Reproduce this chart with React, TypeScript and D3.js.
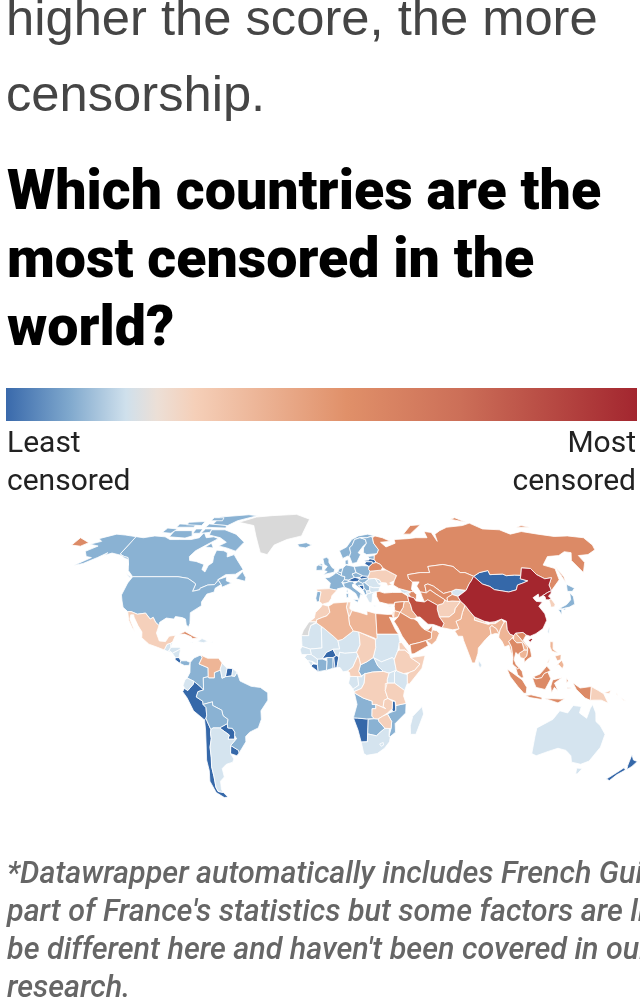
import React from "react";
import * as d3 from "d3";

const bodyLines = ["higher the score, the more", "censorship."];
const titleLines = ["Which countries are the", "most censored in the", "world?"];
const legendLeft = ["Least", "censored"];
const legendRight = ["Most", "censored"];
const noteLines = [
  "*Datawrapper automatically includes French Guiana as",
  "part of France's statistics but some factors are likely to",
  "be different here and haven't been covered in our",
  "research.",
];

const legendStops: [number, string][] = [
  [0, "#3969ab"], [0.1, "#7fa8cd"], [0.19, "#cfe0ec"], [0.24, "#ecdfd6"], [0.3, "#f5cfb8"],
  [0.54, "#e09069"], [0.72, "#cc6f58"], [1, "#a3262f"],
];

const levelColors: Record<string, string> = {
  deep: "#3567a9", mid: "#8ab2d3", pale: "#d5e4ef", peach: "#f5d0bb", light: "#eeb596",
  orange: "#dc8a66", strong: "#bf4f40", top: "#a4282f", none: "#d9d9d9",
};

const deep = ["Peru", "Chile", "Paraguay", "Uruguay", "Suriname", "Costa Rica", "Latvia", "Lithuania", "Slovakia", "Austria", "Bosnia", "Liberia", "Burkina Faso", "Togo", "Benin", "Namibia", "Malawi", "Mongolia", "New Zealand"];
const mid = ["Canada", "United States", "Iceland", "Norway", "Sweden", "Finland", "Denmark", "United Kingdom", "Ireland", "France", "Portugal", "Belgium", "Netherlands", "Germany", "Poland", "Czechia", "Switzerland", "Italy", "Hungary", "Croatia", "Estonia", "Colombia", "Brazil", "Bolivia", "Panama", "Ghana", "Ivory Coast", "Central African Rep.", "Angola", "Mozambique", "Botswana", "Japan", "Serbia", "Albania"];
const pale = ["Guatemala", "Honduras", "Nicaragua", "El Salvador", "Belize", "Ecuador", "Guyana", "French Guiana", "Argentina", "Caribbean", "Romania", "Bulgaria", "Greece", "Moldova", "Macedonia", "Cyprus", "Georgia", "Armenia", "Kyrgyzstan", "Taiwan", "Sri Lanka", "Mauritania", "Mali", "Senegal", "Guinea", "Sierra Leone", "Niger", "Nigeria", "Sudan", "South Sudan", "Kenya", "Gabon", "Congo", "Uganda", "South Africa", "Lesotho", "Madagascar", "Australia"];
const peach = ["Mexico", "Spain", "Morocco", "Tunisia", "Ukraine", "Afghanistan", "South Korea", "Papua New Guinea", "Israel", "Chad", "Cameroon", "DR Congo", "Rwanda", "Eritrea", "Ethiopia", "Somalia", "Tanzania", "Zambia", "Zimbabwe", "Nepal", "Bhutan"];
const light = ["Venezuela", "Algeria", "Libya", "India", "Pakistan", "Iraq", "Jordan", "Oman", "Myanmar", "Laos", "Cambodia", "Philippines", "Bangladesh"];
const orange = ["Russia", "Belarus", "Turkey", "Kazakhstan", "Uzbekistan", "Turkmenistan", "Tajikistan", "Azerbaijan", "Syria", "Saudi Arabia", "Yemen", "UAE", "Egypt", "Cuba", "Thailand", "Vietnam", "Malaysia", "Indonesia"];
const strong = ["Iran"];
const top = ["China", "North Korea"];
const none = ["Greenland", "Western Sahara"];

const shapes: Record<string, string[]> = {
  Canada: [
    "-141,69.6 -135,69 -128,70 -120,69.5 -115,68 -108,68 -100,68 -95,69 -94,72 -90,69 -85,69.5 -81,68.5 -87,65 -92,62 -94,59 -92.5,57 -88,56.5 -82,55 -82,52.5 -79.5,51.3 -79,54.5 -77,56 -78,59 -78,62.3 -73,62 -70,61 -69,58.8 -65,60 -62,57.5 -56,52.5 -60,50.2 -66,50 -70,47.5 -65,49 -64.5,47 -61,46 -66,44 -67,45.2 -69.5,47.3 -71,45.2 -75,45 -79,43.5 -79,42.8 -83,42 -82.5,45.5 -84.5,46.5 -88.5,48.2 -95,49 -123,49 -128,52 -130,54.5 -134,58.5 -137,59 -141,60.3",
    "-61.5,66.5 -65,61.8 -72,63.5 -78,64.5 -74,66.5 -80,69 -89,70.5 -90,73.5 -80,73.5 -70,71",
    "-117,69.5 -105,68.8 -101,70 -104,73 -117,73", "-92,76.5 -80,76 -75,79 -62,82.5 -70,83.2 -92,81.5",
    "-125,72 -118,71.5 -116,74 -124,74.5", "-96,75 -80,74.5 -81,76 -95,77", "-118,75 -105,75 -105,76.5 -118,77",
    "-96,79 -87,79 -88,81 -96,81", "-59,48 -53,46.8 -53,48.5 -56,51.5", "-87,64 -81,63.5 -84,66",
    "-96,71.5 -90,72 -90,74 -95,74", "-102,71.5 -97,71.5 -97,74 -102,74", "-128,50.5 -123.5,48.5 -125,48.7",
    "-112,76.5 -100,76 -100,78.5 -112,78",
  ],
  "United States": [
    "-123,49 -95,49 -88.5,48.2 -84.5,46.5 -82.5,45.5 -83,42 -79,42.8 -79,43.5 -75,45 -71,45.2 -69.5,47.3 -67,45.2 -70,43.5 -70,41.7 -74,40.7 -76,37 -75.5,35.3 -81,32 -80,27 -80.5,25.2 -82,26.5 -83,29 -85,29.7 -89,30.2 -89.5,29 -94,29.5 -97.2,27.5 -97.2,26 -99.5,27.5 -101.5,29.8 -103,29 -106.5,31.8 -111,31.3 -115,32.5 -117,32.5 -120.5,34.5 -122.5,37.5 -124.3,40.3 -124,46",
    "-141,69.6 -141,60.3 -137,59 -134,58.5 -130,54.5 -133,57.5 -136,58.3 -140,59.7 -147,60.8 -151,59.5 -150,61 -154,58.5 -160,55.5 -165,54.5 -158,58.5 -162,59 -166,61.7 -161,64.5 -168,65.5 -162,67 -166,68.5 -157,71 -150,70.5",
  ],
  Mexico: ["-117,32.5 -115,32.5 -111,31.3 -106.5,31.8 -103,29 -101.5,29.8 -99.5,27.5 -97.2,26 -97.8,22.5 -95.5,18.8 -92,18.5 -90.5,21 -87,21.5 -88,18.5 -89,17.8 -91,17.2 -92.2,14.6 -96,15.8 -101,17.3 -105.5,20.3 -106,23 -109,26 -112.5,30 -113,31 -114.7,31 -114.5,29 -110,23.2 -112,25 -115,28.5"],
  Guatemala: ["-92.2,14.6 -91,17.2 -89,17.8 -88.6,15.8 -90,13.8"],
  Belize: ["-89,17.8 -88,18.5 -88.6,15.8"],
  Honduras: ["-88.6,15.8 -84,15.8 -83.2,15 -87.5,13 -89.5,14.3"],
  "El Salvador": ["-90,13.8 -87.8,13.3 -89.5,14.3"],
  Nicaragua: ["-87.5,13 -83.2,15 -83.7,11 -85.7,11"],
  "Costa Rica": ["-85.7,11 -83.7,11 -82.6,9.5 -83,8.3 -85.7,10"],
  Panama: ["-83,8.3 -82.6,9.5 -79.5,9.5 -77.4,8.7 -78,7.3 -80.5,7.3"],
  Cuba: ["-85,21.9 -82,23.2 -77,21 -74.2,20.2 -77.5,19.9 -78,20.7 -82,22"],
  Caribbean: ["-74.4,18.5 -72,19.9 -68.5,18.7 -71,18", "-67.2,18 -65.7,18.4 -66,18", "-78.3,18.3 -76.3,18.1 -77,17.8"],
  Colombia: ["-77.4,8.7 -75.5,10.8 -72,12.2 -71,11 -72.5,8 -67.5,6.2 -67.3,2 -70,1.5 -69.9,-4.2 -72,-2.3 -75.2,-0.1 -78.8,1.4 -77.3,4"],
  Venezuela: ["-72,12.2 -68,10.7 -62,10.7 -60,8.5 -61,5.5 -60.7,5.2 -64,4 -64,1.5 -67,1.5 -67.3,2 -67.5,6.2 -72.5,8 -71,11"],
  Guyana: ["-60,8.5 -57.2,6 -58,2 -59.8,1.3 -60.7,5.2 -61,5.5"],
  Suriname: ["-57.2,6 -54,5.8 -54.5,2.4 -58,2"],
  "French Guiana": ["-54,5.8 -51.7,4.2 -52.9,2.2 -54.5,2.4"],
  Brazil: ["-51.7,4.2 -50,0 -44,-2.5 -39,-3 -35,-5.5 -35,-9 -39,-14 -39,-18 -41,-22 -46,-24 -48.5,-26 -48.7,-28.5 -53.4,-33.7 -53.5,-32.5 -57.6,-30.2 -53.8,-27 -54.6,-25.5 -54.3,-24 -55.5,-22.2 -58,-22 -58,-20 -57.5,-18 -60,-16.3 -60.5,-13.7 -65.3,-11.5 -65.3,-9.8 -70.5,-11 -70.6,-9.5 -74,-7.5 -73,-5 -69.9,-4.2 -70,1.5 -67.3,2 -67,1.5 -64,1.5 -64,4 -60.7,5.2 -59.8,1.3 -58,2 -54.5,2.4 -52.9,2.2"],
  Ecuador: ["-78.8,1.4 -75.2,-0.1 -75.5,-1.5 -78.5,-4.5 -80.3,-3.4 -81,-2 -80,0.5"],
  Peru: ["-80.3,-3.4 -78.5,-4.5 -75.5,-1.5 -75.2,-0.1 -72,-2.3 -69.9,-4.2 -73,-5 -74,-7.5 -70.6,-9.5 -70.5,-11 -69,-12.5 -69,-16.2 -69.5,-17.5 -70.4,-18.3 -76,-14 -79,-8 -81.3,-5"],
  Bolivia: ["-70.5,-11 -65.3,-9.8 -65.3,-11.5 -60.5,-13.7 -60,-16.3 -57.5,-18 -58,-20 -62.6,-22 -66.2,-22 -67.5,-22.8 -69,-19 -69.5,-17.5 -69,-16.2 -69,-12.5"],
  Paraguay: ["-58,-20 -58,-22 -55.5,-22.2 -54.3,-24 -54.6,-25.5 -55,-27.3 -58.6,-27.3 -57.6,-25.3 -62.6,-22"],
  Uruguay: ["-57.6,-30.2 -53.5,-32.5 -53.4,-33.7 -55,-35 -58.4,-34"],
  Argentina: ["-66.2,-22 -62.6,-22 -57.6,-25.3 -58.6,-27.3 -55,-27.3 -53.8,-27 -57.6,-30.2 -58.4,-34 -57,-36.5 -58,-38 -62,-39 -65,-41 -65,-45 -68,-47 -69,-51 -68.5,-52.5 -71.5,-52 -72,-50 -71.2,-45 -71,-40 -70,-36 -69.5,-31 -68,-27 -68,-24.5 -67.5,-22.8"],
  Chile: ["-69.5,-17.5 -69,-19 -67.5,-22.8 -68,-24.5 -68,-27 -69.5,-31 -70,-36 -71,-40 -71.2,-45 -72,-50 -71.5,-52 -68.5,-52.5 -66.5,-54.8 -69,-55 -73,-52.5 -74.5,-47 -73,-42 -73,-37 -71.5,-30 -70.5,-23 -70.4,-18.3"],
  Greenland: ["-73,78 -60,76 -55,70 -51,65 -48,61 -43,60 -40,65 -32,68 -22,70 -20,75 -18,80 -30,83.5 -50,82.5 -62,81.5"],
  Iceland: ["-24,65.5 -18,66.3 -14,65 -18,63.5 -22.5,64"],
  Norway: ["5,62 7,58 10.5,59.3 11.5,59 12.5,61 12,63.5 14,65 16,68 20,69 25,69 28,69.7 31,70 26,71 19,70 14,68 10,64"],
  Sweden: ["11.5,59 13,55.5 16,56 19,60 17.5,61 21.5,64.5 24,66 23.7,68 20,69 16,68 14,65 12,63.5 12.5,61"],
  Finland: ["23,60 30,60.5 31.5,62.5 29,66 29,69 28,69.7 25,69 20.5,69 23.7,68 24,66 21.5,63.5 21,61"],
  Denmark: ["8.5,57 10.5,57.5 10.5,55 8.5,55"],
  "United Kingdom": ["-5.5,50 1.3,51.2 1.7,52.7 0,53.5 -2,56 -2,57.6 -3.5,58.6 -6,58 -5,55 -3,54 -5,52 -3,51.5", "-8,54.5 -6,54.2 -6,55.2 -7.5,55.3"],
  Ireland: ["-10,52 -6,52.2 -6,54.2 -8,54.5 -7.5,55.3 -10,54"],
  France: ["-4.5,48.4 -1.5,48.7 1.5,50.2 2.5,51 5.8,49.5 8,49 7.5,47.5 6,46.2 7.5,44 3.2,43.2 3,42.5 -1.7,43.3 -1,46", "8.6,42 9.5,43 9.4,41.5"],
  Spain: ["-9.3,43 -1.7,43.3 3,42.5 0,40 -0.5,38.5 -2,36.8 -5.5,36 -7.4,37.2 -7,39.5 -6.5,41.8 -8.8,42"],
  Portugal: ["-8.8,42 -6.5,41.8 -7,39.5 -7.4,37.2 -8.9,37 -9.5,38.8"],
  Belgium: ["2.5,51 4,51.4 6,50.8 5.8,49.5"],
  Netherlands: ["3.5,51.4 4.8,53 7,53.3 6,50.8 4,51.4"],
  Germany: ["6,50.8 7,53.3 9,54.8 14,54 15,51 12.5,50.3 13.8,48.7 10,47.4 7.5,47.5 8,49 5.8,49.5"],
  Poland: ["14.2,54 19,54.4 23,54.3 24,51 22.5,49.2 19,49.4 15,51"],
  Czechia: ["12.5,50.3 15,51 18.8,49.5 17,48.7 14.5,48.6 13.8,48.7"],
  Slovakia: ["17,48.7 18.8,49.5 22.5,49.2 22,48.4 18,47.8"],
  Austria: ["9.6,47.3 13.8,48.7 14.5,48.6 17,48 16,46.8 12.5,46.6"],
  Switzerland: ["6,46.2 7.5,47.5 9.6,47.3 10.4,46.6 8,46"],
  Italy: ["7.5,44 6.9,45.8 8,46 10.4,46.6 12.5,46.6 13.7,45.7 12.3,45.2 12.5,44 16,41.8 18.4,40 16.8,40.5 16,38 15.6,38.2 14,41 10.5,43", "12.5,38 15.5,38.2 15,36.8", "8.3,41 9.7,41 9.6,39.1 8.5,39"],
  Hungary: ["16,46.8 17,48 18,47.8 22,48.4 22.8,48 20,46.2 18.5,45.8"],
  Croatia: ["13.7,45.5 16,46.8 18.5,45.8 19,45 15.8,44.8 18.5,42.5 15,44.5"],
  Bosnia: ["15.8,44.8 19,45 19.2,43.5 18.5,42.5"],
  Serbia: ["19,45 18.5,45.8 20,46.2 22.7,44.2 22.5,42.3 20.5,42.2 19.2,43.5"],
  Albania: ["18.5,42.5 19.2,43.5 20.5,42.2 20.8,40.5 19.5,40.4"],
  Macedonia: ["20.5,42.2 22.5,42.3 23,41.2 20.8,40.8"],
  Romania: ["22.7,44.2 20,46.2 22.8,48 26.5,48.2 28.2,45.5 29.7,45 28.6,43.8 25,43.7"],
  Moldova: ["26.5,48.2 29,47.5 30,46.2 28.2,45.5"],
  Bulgaria: ["22.7,44.2 25,43.7 28.6,43.8 27.8,42 23,41.3 22.5,42.3"],
  Greece: ["20,39.7 20.8,40.8 23,41.3 26.3,41.7 24,40.7 23.5,38 23,36.5 21.5,37", "23.5,35.5 26.3,35.3 24.5,34.9"],
  Ukraine: ["24,51.7 31,52.2 34,52.3 40,49.6 38,47 35,46 36.5,45.2 33.5,44.5 33,46 30,46.2 29,47.5 26.5,48.2 22.8,48 22,48.4 22.5,49.2"],
  Belarus: ["23.5,53.9 26,55.5 28.5,56 31,55 32,53.5 31,52.2 24,51.7 23,52.5"],
  Lithuania: ["21,55.3 22,56.4 26,56.3 26,55.5 23.5,53.9 23,54.3"],
  Latvia: ["21,57 24,57.2 24.5,58 27.5,57.5 28.5,56 26,55.5 26,56.3 22,56.4"],
  Estonia: ["23.5,59 28,59.5 27.5,57.5 24.5,58"],
  Turkey: ["26.3,41.7 28,42 31,41.2 36,41.5 41.5,41.5 44.5,39.8 44.8,37.2 42,37.2 36.5,36.8 36,36 32.5,36 30,36.5 27.5,37 26.3,39.5"],
  Cyprus: ["32.5,35 34.5,35.6 33.5,34.7"],
  Russia: [
    "31,70 36,69 41,67 34,66.5 37,64 44,66 44,68 54,68.5 60,69 68,69 68,72.5 73,72 74,67 75,71 80,73 87,75 100,76 107,77.5 113,74 125,73.5 130,71 140,72.5 150,71 160,69.7 170,70 180,69 180,65 178,62.5 170,60 163,59.5 163,56 157,51 155.5,57 160,61 156,61.5 150,59.5 142,59 135,54.7 141,53 139,47.5 131,42.5 130.7,42.3 131,45 135,48.5 130.5,48 127,50 125.5,53 120,53.3 117,49.7 113,49.8 108,49.5 106,50.3 98,50 98,52 92,51 87.5,49.2 83,51 80,51 77,54 71,55 61,54 61,51 55,51 47,50 47,48 49,46.5 47.5,43 48.5,41.8 46,42 40,43.4 37,45 38,47 40,49.6 34,52.3 32,53.5 31,55 28.5,56 27.5,57.5 28,59.5 30,60.5 31.5,62.5 29,66 29,69",
    "-180,69 -170,66.3 -173,64.4 -180,65", "52,71 57,71 68,76.5 60,76", "142,54 143,49 142,46 142,50", "95,80 105,78 100,81", "140,75 150,75 145,76",
  ],
  Kazakhstan: ["47,50 55,51 61,51 61,54 71,55 77,54 80,51 83,51 87.5,49.2 85,47 83,45.5 80,42.5 74,43 71,42 66,41 61,44.5 58,45.5 56,45 56,41.3 52.5,41.7 51,44.5 53,46.5 49,46.5 47,48"],
  Turkmenistan: ["52.5,41.7 56,41.3 58.5,42.7 61,41 66,38 64.5,36.3 61,35.5 56,38 53.8,37 53,39.5"],
  Uzbekistan: ["56,45 58,45.5 61,44.5 66,41 71,42 71,40.5 67.5,39 67.5,37.2 66,38 61,41 58.5,42.7 56,41.3"],
  Kyrgyzstan: ["71,42 74,43 80,42.5 74,39.7 71,40.5"],
  Tajikistan: ["67.5,39 71,40.5 74,39.7 75,37.3 70,37.5 67.5,37.2"],
  Afghanistan: ["61,35.5 64.5,36.3 66,38 67.5,37.2 70,37.5 75,37.3 71,34 70,32 66.5,30 61,30 60.5,33.5"],
  Pakistan: ["61,30 66.5,30 70,32 71,34 75,37.3 77,35.5 74.5,32 73,29 70,28 71,24.5 67.5,24 61.7,25 63,27"],
  Iran: ["44.8,37.2 44.5,39.8 48,39 49,37.5 53.8,37 56,38 61,35.5 60.5,33.5 61,30 63,27 61.7,25 57,26.5 54,26.6 50,30 48.5,30 46,33 45.5,35.8"],
  Iraq: ["42,37.2 44.8,37.2 45.5,35.8 46,33 48.5,30 46.5,29.1 44.7,29.2 39,32.2 41,34.5"],
  Syria: ["36.5,36.8 42,37.2 41,34.5 39,32.2 36,33 36,35"],
  Jordan: ["36,33 39,32.2 37.5,30 35,29.5 35.5,32"],
  Israel: ["34.3,31.3 35,29.5 35.5,32 35,33"],
  "Saudi Arabia": ["35,28 37.5,30 39,32.2 44.7,29.2 46.5,29.1 48.3,28 50,25.5 51.5,24.3 55.5,22.7 55,20 52,19 48,18 43,17 42.5,16.5 39,21 37,25"],
  UAE: ["51.5,24.3 54,24.2 56.3,26 56,24 55.5,22.7"],
  Oman: ["55.5,22.7 56,24 58.5,23.6 59.8,22.4 57.7,19 55,17 52,19 55,20"],
  Yemen: ["43,17 48,18 52,19 53,16.6 45,12.8 43.5,12.7"],
  Georgia: ["40,43.4 46,42 46.5,41.2 43,41 41.5,41.5"],
  Armenia: ["43.5,41.2 45,41.2 46.5,39 44.8,39.8"],
  Azerbaijan: ["45,41.2 46.5,41.2 46,42 48.5,41.8 50,40.4 49,37.8 48,39 46.5,39"],
  India: ["68.5,23.5 71,24.5 70,28 73,29 74.5,32 77,35.5 79,32.5 81,30 80.5,28.5 88,26.5 89,26.8 92,26.9 96,29 97,27.5 94,24 93,22 92,24.5 89.7,26 88.5,25 88.5,22 85,19.5 80.5,15.5 80,13 78,8.5 76.5,8.5 74.5,14 72.8,19 72.5,21 70,21"],
  China: ["74,39.5 80,42.5 83,45.5 85,47 87.5,49.2 91,45.5 95,44.3 97,42.8 105,41.7 110,42.7 112,45 116,46 119.5,47 115.5,48 117,49.7 120,53.3 125.5,53 127,50 130.5,48 135,48.5 131,45 130.7,42.3 128,41.5 124.3,40 121.5,39 122,40.7 118,39 119,37.3 122.5,37 119.5,35 121.5,31.5 121.5,28.5 118,24.5 113.5,22.2 110,21 108,21.6 106.5,22.8 102.3,22.5 101,21.3 99,22 98,24 98.5,28 96,29 92,27.8 89,27.5 86,28 81,30 79,32.5 77,35.5 75,37.3", "108.7,19.2 110.5,20 111,19.5 109.5,18.2"],
  Mongolia: ["87.5,49.2 92,51 98,52 98,50 106,50.3 108,49.5 113,49.8 117,49.7 115.5,48 119.5,47 116,46 112,45 110,42.7 105,41.7 97,42.8 95,44.3 91,45.5"],
  "North Korea": ["124.3,40 128,41.5 130.7,42.3 129.7,41 127.5,39.8 128.3,38.6 126.8,38 125,38 125.3,39.5"],
  "South Korea": ["126.8,38 128.3,38.6 129.4,36 128.5,34.8 126.3,34.5 126.7,37"],
  Japan: ["130.9,34 136,35.8 139.5,38 141,41.3 142,39.5 140.8,36 137,34.6 132.5,33.8", "140,42 141.8,45.4 145.3,43.5 143,42", "130,33.5 132,33.5 131,31", "132.5,33.5 134.5,34.2 134,33.2"],
  Taiwan: ["120.2,23 121.5,25.2 122,24.8 120.8,22"],
  Nepal: ["81,30 86,28 88,26.5 80.5,28.5"],
  Bhutan: ["89,27.5 92,27.8 92,26.9 89,26.8"],
  Bangladesh: ["88.5,25 89.7,26 92,24.5 93,22 91,22.3 89,21.8 88.5,22"],
  "Sri Lanka": ["80,9.7 81.8,7.5 80.7,6 79.8,7.5"],
  Myanmar: ["92.5,20.5 93,22 94,24 97,27.5 98.5,28 98,24 99,22 101,21.3 100,20.3 97.7,18.5 98.8,16 99,11 98,14 97.5,16.8 95,16 94,18.5"],
  Thailand: ["97.7,18.5 100,20.3 100.5,19.5 102,17.9 105,18 105.5,14.5 102.5,13 102,12.3 100.8,13.4 99.5,10 100.5,7.5 102,6.2 101,5.7 100,6.5 98.4,8 99,11 98.8,16"],
  Laos: ["100.5,19.5 101,21.3 102.3,22.5 104,20.5 107.5,16 107.5,14.5 105.5,14.5 105,18 102,17.9"],
  Vietnam: ["102.3,22.5 106.5,22.8 108,21.6 105.7,19 109,15 109.3,11.5 106.5,10 105,8.7 105,10.5 106.7,11.8 107.5,14.5 107.5,16 104,20.5"],
  Cambodia: ["102.5,13 105.5,14.5 107.5,14.5 106.7,11.8 105,10.5 103,11"],
  Malaysia: ["100,6.5 101,5.7 102,6.2 103.5,4.5 104.2,1.5 103,1.5 101,3", "109.6,2 111.5,2.7 113,3.2 115,5 117,7 119,5 117.5,4.2 115.5,3.5 114,1.5 111,1"],
  Indonesia: ["95.3,5.6 98,4 103.5,0.5 106,-3 105.8,-5.8 104.5,-5.8 101,-2.5 97,2", "105.2,-6.8 108.5,-6.5 114.5,-7.7 114.5,-8.7 108,-7.8", "109,1.5 111,1 114,1.5 115.5,3.5 117.5,4.2 119,1 116,-4 111,-3 110,-1", "119.5,-5.5 119,-2.5 120,0.5 125,1.5 121,-1 123,-4.5 121,-3", "131,-0.8 135,-3.3 141,-2.6 141,-9.1 138,-8 133,-4", "116,-8.4 120,-8.3 125,-8.5 127,-8.3 123.5,-10.3 119,-9", "127.5,1.5 128.5,0 127.5,-0.8", "128,-3 130.5,-3.3 128,-3.5"],
  "Papua New Guinea": ["141,-2.6 145,-4.5 148,-6 151,-10.5 147,-9 143,-9 141,-9.1", "148,-5.5 152,-4.3 151,-6", "155,-5.5 155.9,-6.8 154.8,-6.2", "157,-7.5 160.8,-9.5 159,-9"],
  Philippines: ["120.5,18.5 122.2,18.4 121.5,15 124,13 120.7,14 120,16", "122,7 125.5,9.8 126.5,7.5 125.5,5.8 123.5,7.7", "122,11.7 125.5,12.5 125,10 123,9.5", "117.3,8.5 119.5,11.3 118,8.5"],
  Morocco: ["-13,27.7 -8.7,27.7 -8.7,28.7 -5.5,29.8 -3,30.5 -1.2,32.2 -2,35 -5.5,35.8 -6.5,34.5 -9.5,32 -10,29.5"],
  "Western Sahara": ["-17,21.3 -13,21.3 -13,23 -12,26 -8.7,27.7 -13,27.7 -16,23.7"],
  Algeria: ["-8.7,27.7 -8.7,28.7 -5.5,29.8 -3,30.5 -1.2,32.2 -2,35 1,36.5 9,37 8.3,34.6 9.5,30.2 9.9,26.5 11.9,23.5 5.7,19.5 3.3,19 1.2,20.7 -4.9,25 -8.7,27.2"],
  Tunisia: ["8.3,34.6 9,37 11,37 10.2,34 11.5,33 10,30.3 9.5,30.2"],
  Libya: ["10,30.3 11.5,33 15.5,32.2 20,31 20,32.8 25,31.6 25,20 24,19.5 24,20 15,23 11.9,23.5 9.9,26.5 9.5,30.2"],
  Egypt: ["25,31.6 32,31.2 34.2,31.3 34.8,29.5 32.6,29.9 35.5,24 37,22 25,22"],
  Mauritania: ["-17,21.3 -13,21.3 -13,23 -12,26 -8.7,27.2 -4.9,25 -6,25 -5.5,15.5 -12,15 -16.5,16.2"],
  Mali: ["-4.9,25 1.2,20.7 3.3,19 4.2,15 0.5,14.9 -3,13.5 -5.5,10.4 -8,10.3 -11.4,12.4 -12,15 -5.5,15.5 -6,25"],
  Senegal: ["-17.5,14.7 -16.5,16.2 -12,15 -11.4,12.4 -16.7,12.4"],
  Guinea: ["-15,11 -13.7,12.5 -11.4,12.4 -8,10.3 -8,7.8 -10.7,9.2 -13.2,9.5"],
  "Sierra Leone": ["-13.2,9.5 -10.7,9.2 -10.4,8 -11.5,7"],
  Liberia: ["-11.5,7 -10.4,8 -8,7.8 -7.5,4.4"],
  "Ivory Coast": ["-8,7.8 -8,10.3 -5.5,10.4 -2.8,9.5 -3,5.1 -7.5,4.4"],
  "Burkina Faso": ["-5.5,10.4 -3,13.5 0.5,14.9 2.3,12 0.5,11 -2.8,11"],
  Ghana: ["-2.8,11 0.5,11 0.5,6 -3,5 -2.8,9.5"],
  Togo: ["0.5,11 1,11 1.6,6.2 0.5,6"],
  Benin: ["1,11 2.3,12 3.8,11.5 2.7,6.3 1.6,6.2"],
  Nigeria: ["2.7,6.3 3.8,11.5 4.2,13.5 7,13 13.5,13.5 14.2,12 11.3,6.5 8.5,4.7 6,4.3 4.4,6.3"],
  Niger: ["3.3,19 5.7,19.5 11.9,23.5 15,23 15.5,17 13.5,13.5 7,13 4.2,13.5 3.8,11.5 2.3,12 0.5,14.9 4.2,15"],
  Chad: ["15,23 24,19.5 24,15.7 22.5,11 19,9 15.5,7.6 15,10 14.2,12 13.5,13.5 15.5,17"],
  Sudan: ["24,19.5 24,20 25,22 37,22 37.5,18.5 36,14 34,10 33,11 30,10 27,9 23,10.8 22.5,11 24,15.7"],
  "South Sudan": ["23,10.8 27,9 30,10 33,11 34,10 35,5 31,3.7 28,4.5 25,7"],
  Eritrea: ["37,18 38.5,18 43,12.7 40,14.5 37,14.5"],
  Ethiopia: ["36,14 37,14.5 40,14.5 42.5,12.5 43,11 48,8 45,5 42,4 39,3.5 36,4.5 35,5 34,10"],
  Somalia: ["43,11 51,12 49,6 42,-1.5 41,-1 41,3 42,4 45,5 48,8"],
  Kenya: ["35,5 36,4.5 39,3.5 41,3 41,-1 39.5,-4.5 34,-1 34,4"],
  Uganda: ["31,3.7 35,5 34,4 34,-1 30,-1 30,0.6"],
  Cameroon: ["8.5,4.7 11.3,6.5 14.2,12 15,10 15.5,7.6 14.5,4.5 16,2 9.8,2.2 9.5,4"],
  "Central African Rep.": ["14.5,4.5 15.5,7.6 19,9 22.5,11 23,10.8 25,7 28,4.5 22,4.2 18.5,3.5 16,2.5"],
  Gabon: ["9.8,2.2 14,2.2 14.5,-2 11.5,-3.8 9,-1"],
  Congo: ["14,2.2 16,2 18,3.6 17.5,-1 16,-3.5 12,-5 11.5,-3.8 14.5,-2"],
  "DR Congo": ["18.5,3.5 22,4.2 28,4.5 31,3.7 30,0.6 30,-1 29,-4.5 30.5,-8.2 28.5,-9 28,-12 29.5,-13 24,-11 22,-11 22,-9.5 17,-8 13,-6 12,-5 16,-3.5 17.5,-1 18,3.6"],
  Rwanda: ["29,-1.2 30.8,-1.2 30,-4.5 29,-4.5"],
  Tanzania: ["30,-1 34,-1 39.5,-4.5 39,-7 40.5,-10.5 35,-11.5 34.5,-9.5 30.5,-8.2 29,-4.5"],
  Angola: ["12,-5 13,-6 17,-8 22,-9.5 22,-11 24,-11 24,-13 22,-13 22,-16.5 23.4,-17.7 19,-17.8 14,-17.4 11.8,-17.3 13.7,-11"],
  Zambia: ["24,-11 29.5,-13 28,-12 28.5,-9 30.5,-8.2 33,-9.5 33,-13 30.5,-15 28,-16.5 25.5,-17.8 23.4,-17.7 22,-16.5 22,-13 24,-13"],
  Malawi: ["33,-9.5 34.5,-9.5 35,-14 35.5,-17 34.5,-16 33,-13.5"],
  Mozambique: ["35,-11.5 40.5,-10.5 40.5,-15 35,-20 35.5,-24 32.8,-26 32,-26 32.9,-22.3 33,-19 30.5,-15.5 33,-14.5 35,-14"],
  Zimbabwe: ["25.5,-17.8 28,-16.5 30.5,-15.5 33,-19 32.9,-22.3 29.5,-22.2 26,-19"],
  Botswana: ["20,-18 23.4,-17.7 25.5,-17.8 26,-19 29.5,-22.2 27,-24 25,-25.7 20,-24.8 20,-22"],
  Namibia: ["11.8,-17.3 14,-17.4 19,-17.8 23.4,-17.7 20,-18 20,-28.5 16.5,-28.6 14.5,-23"],
  "South Africa": ["16.5,-28.6 20,-28.5 20,-24.8 25,-25.7 27,-24 29.5,-22.2 32,-22.3 32,-26 32.8,-26 32.5,-28.5 30,-31.5 26,-34 20,-34.8 18.3,-34"],
  Lesotho: ["27,-29.5 29,-28.8 29.3,-30 28,-30.6"],
  Madagascar: ["49.3,-12 50.4,-15.5 47,-25 44,-25 43.5,-21 44.5,-16.5"],
  Australia: ["114,-22 114,-26 115,-34 118,-35 124,-33 129,-31.5 134,-32.5 138,-35 140,-38 146,-39 150,-37.5 153,-31 153,-25 149,-21 146,-19 145,-15 142.5,-11 141.5,-13 140.5,-17.5 136,-15 136.5,-12 132,-11.5 129.5,-15 125,-14 122,-18 117,-20.5", "144.8,-40.8 148.2,-41 147,-43.6 146,-43.5"],
  "New Zealand": ["173,-34.5 175.5,-37 178.3,-37.7 176.8,-40 175,-41.5 174,-39.5", "172.7,-40.6 174.3,-41.7 171,-44 169,-46.7 166.5,-46 170,-43"],
};

const levels: [string, string[]][] = [
  ["deep", deep], ["mid", mid], ["pale", pale], ["peach", peach], ["light", light],
  ["orange", orange], ["strong", strong], ["top", top], ["none", none],
];

const projection = d3.geoNaturalEarth1().scale(121).translate([332, 681]);
const ringPath = d3.line<[number, number]>().curve(d3.curveLinearClosed);
const toPath = (ring: string) =>
  ringPath(ring.split(" ").map((p) => projection(p.split(",").map(Number) as [number, number]) as [number, number])) ?? "";

const FONT = "Roboto, sans-serif";

export default function App() {
  document.body.style.margin = "0";
  return (
    <svg width={640} height={1002} viewBox="0 0 640 1002" style={{ display: "block", background: "#fff" }}>
      <defs>
        <linearGradient id="scale">
          {legendStops.map(([o, c]) => <stop key={o} offset={o} stopColor={c} />)}
        </linearGradient>
        <filter id="soft" x="-5%" y="-5%" width="110%" height="110%">
          <feGaussianBlur stdDeviation={0.6} />
        </filter>
        <filter id="softText" x="-5%" y="-5%" width="110%" height="110%">
          <feGaussianBlur stdDeviation={0.35} />
        </filter>
      </defs>
      <g filter="url(#softText)">
        <g fontFamily="'Liberation Sans', sans-serif" fontSize={50.7} fill="#444">
          {bodyLines.map((t, i) => <text key={t} x={6} y={35 + i * 76}>{t}</text>)}
        </g>
        <g fontFamily={FONT} fontSize={55.5} fontWeight={900} fill="#000">
          {titleLines.map((t, i) => <text key={t} x={7} y={209 + i * 68}>{t}</text>)}
        </g>
        <g fontFamily={FONT} fontSize={30} fill="#222">
          {legendLeft.map((t, i) => <text key={t} x={7} y={452 + i * 38}>{t}</text>)}
          {legendRight.map((t, i) => <text key={t} x={636} y={452 + i * 38} textAnchor="end">{t}</text>)}
        </g>
        <g fontFamily={FONT} fontSize={30.5} fontStyle="italic" fontWeight={500} fill="#666">
          {noteLines.map((t, i) => <text key={t} x={7} y={883 + i * 38}>{t}</text>)}
        </g>
      </g>
      <rect x={6} y={388} width={631} height={33} fill="url(#scale)" />
      <g stroke="#fff" strokeWidth={0.8} strokeLinejoin="round" filter="url(#soft)">
        {levels.flatMap(([level, names]) =>
          names.flatMap((name) =>
            (shapes[name] ?? []).map((ring, i) => (
              <path key={name + i} d={toPath(ring)} fill={levelColors[level]} />
            ))
          )
        )}
      </g>
    </svg>
  );
}
